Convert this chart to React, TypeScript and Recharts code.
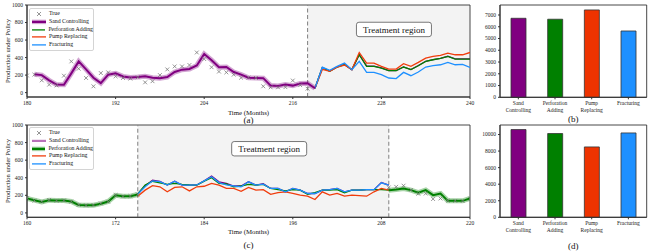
import {
  LineChart,
  Line,
  XAxis,
  YAxis,
  ReferenceArea,
  ReferenceLine,
  ReferenceDot,
  BarChart,
  Bar,
  Cell,
} from 'recharts'

// ------------------------------------------------------------
// Data
// ------------------------------------------------------------
const POLICIES = ['Sand Controlling', 'Perforation Adding', 'Pump Replacing', 'Fracturing']
const LINE_COLORS = ['#800080', '#008000', '#f03c0c', '#1e90ff']
const BAR_COLORS = ['#800080', '#008000', '#ee3300', '#1e90ff']

// (a) well 1 — months 180..240, treatment from 218
const TOP_X_TICKS = [180, 192, 204, 216, 228, 240]
const TOP_TRUE_START = 180
const topTrue = [
  195, 205, 140, 91, 82, 193, 356, 273, 167, 72, 223, 231, 186, 167, 160, 175, 117, 130, 200, 265,
  299, 299, 315, 458, 383, 290, 240, 231, 205, 170, 172, 168, 72, 60, 60, 62, 138, 85, 45,
]
const TOP_FIT_START = 181
const topFit = [
  210, 200, 140, 92, 90, 220, 356, 265, 170, 108, 205, 220, 185, 172, 178, 186, 170, 165, 178,
  235, 262, 270, 310, 440, 370, 290, 292, 235, 205, 170, 168, 165, 80, 75, 92, 80, 105, 108, 50,
]
const TOP_POLICY_START = 219
const topSand = [50, 285, 247, 293, 322, 262, 435, 302, 302, 282, 252, 252, 294, 264, 309, 358, 377, 392, 415, 385, 385, 385]
const topPerf = [50, 285, 245, 292, 320, 262, 432, 300, 300, 280, 250, 250, 292, 262, 307, 356, 375, 390, 413, 383, 383, 383]
const topPump = [50, 265, 242, 290, 315, 262, 458, 337, 337, 300, 269, 269, 330, 300, 345, 394, 413, 424, 451, 432, 432, 458]
const topFrac = [50, 290, 255, 300, 337, 262, 356, 231, 231, 205, 167, 160, 231, 193, 235, 292, 307, 318, 345, 318, 322, 288]

// (c) well 2 — months 160..220, treatment 175..209
const BOT_X_TICKS = [160, 172, 184, 196, 208, 220]
const BOT_PRE_START = 160
const botTruePre = [168, 140, 128, 148, 138, 142, 128, 92, 86, 90, 108, 128, 203, 188, 192, 208]
const botFitPre = [165, 145, 125, 145, 140, 140, 130, 90, 88, 88, 105, 130, 200, 190, 190, 210]
const BOT_POST_START = 209
const botTruePost = [290, 297, 310, 262, 218, 220, 158, 164, 140, 137, 135, 160]
const botFitPost = [259, 265, 278, 259, 230, 259, 202, 221, 137, 137, 137, 164]
const BOT_POLICY_START = 175
const botSand = [
  215, 305, 373, 360, 316, 360, 316, 316, 318, 365, 418, 354, 335, 306, 306, 354, 316, 332,
  278, 278, 240, 278, 259, 221, 221, 259, 265, 278, 240, 259, 259, 265, 265, 345, 316,
]
const botPerf = [
  215, 316, 360, 342, 325, 335, 325, 318, 316, 362, 400, 335, 330, 297, 306, 325, 316, 325,
  278, 265, 250, 265, 259, 212, 230, 259, 259, 265, 230, 259, 259, 265, 265, 265, 259,
]
const botPump = [
  190, 259, 310, 297, 240, 290, 297, 250, 297, 303, 335, 316, 278, 278, 246, 290, 259, 265,
  212, 230, 240, 221, 202, 190, 152, 240, 202, 221, 190, 202, 196, 190, 240, 278, 259,
]
const botFrac = [
  215, 297, 365, 355, 316, 360, 316, 316, 318, 365, 411, 345, 320, 306, 297, 354, 316, 328,
  278, 278, 240, 278, 259, 221, 221, 259, 265, 278, 240, 259, 259, 265, 265, 342, 316,
]

// (b) / (d) cumulative production per policy
const topTotals = [6720, 6640, 7430, 5640]
const botTotals = [10600, 10120, 8500, 10190]

// ------------------------------------------------------------
const SERIF = '"Liberation Serif", "DejaVu Serif", serif'
const AXIS = '#333'
const TICK = { fontSize: 5.5, fill: '#222', fontFamily: SERIF }

type Row = { month: number; [k: string]: number | undefined }

function buildRows(first: number, last: number, series: Array<[string, number, number[]]>) {
  const rows: Row[] = []
  for (let m = first; m <= last; m++) {
    const row: Row = { month: m }
    for (const [key, start, values] of series) {
      const v = values[m - start]
      if (v !== undefined) row[key] = v
    }
    rows.push(row)
  }
  return rows
}

const topRows = buildRows(180, 240, [
  ['true', TOP_TRUE_START, topTrue],
  ['fit', TOP_FIT_START, topFit],
  ['sand', TOP_POLICY_START, topSand],
  ['perf', TOP_POLICY_START, topPerf],
  ['pump', TOP_POLICY_START, topPump],
  ['frac', TOP_POLICY_START, topFrac],
])

const botRows = buildRows(160, 220, [
  ['true', BOT_PRE_START, botTruePre],
  ['true', BOT_POST_START, botTruePost],
  ['fit', BOT_PRE_START, botFitPre],
  ['fit2', BOT_POST_START, botFitPost],
  ['sand', BOT_POLICY_START, botSand],
  ['perf', BOT_POLICY_START, botPerf],
  ['pump', BOT_POLICY_START, botPump],
  ['frac', BOT_POLICY_START, botFrac],
])

// ------------------------------------------------------------
// Small pieces
// ------------------------------------------------------------
function CrossDot(props: any) {
  const { cx, cy, index } = props
  if (cx == null || cy == null || Number.isNaN(cy)) return <g key={index} />
  const s = 1.9
  return (
    <g key={index} stroke="#7a7a7a" strokeWidth={0.8}>
      <line x1={cx - s} y1={cy - s} x2={cx + s} y2={cy + s} />
      <line x1={cx - s} y1={cy + s} x2={cx + s} y2={cy - s} />
    </g>
  )
}

function RegionTag(props: any) {
  const { cx, cy } = props
  if (cx == null || cy == null) return <g />
  return (
    <g>
      <rect x={cx - 37.5} y={cy - 7.2} width={75} height={14.4} rx={2.5} fill="#fff" stroke="#555" strokeWidth={0.8} />
      <text x={cx} y={cy + 0.5} textAnchor="middle" dominantBaseline="central" fontSize={9} fontFamily={SERIF} fill="#111">
        Treatment region
      </text>
    </g>
  )
}

function PolicyTick(props: any) {
  const { x, y, payload } = props
  const words = String(payload.value).split(' ')
  return (
    <text x={x} y={y} textAnchor="middle" {...TICK}>
      {words.map((w, i) => (
        <tspan key={i} x={x} dy={i === 0 ? '0.71em' : '1.15em'}>
          {w}
        </tspan>
      ))}
    </text>
  )
}

function PolicyLegend({ top, left, thick }: { top: number; left: number; thick: 'sand' | 'perf' }) {
  const sample = (i: number) => {
    const color = LINE_COLORS[i]
    const isThick = (thick === 'sand' && i === 0) || (thick === 'perf' && i === 1)
    const faded = thick === 'perf' && i === 0
    return (
      <svg width={14} height={7.8}>
        {isThick && <line x1={0} y1={3.9} x2={14} y2={3.9} stroke={color} strokeOpacity={0.35} strokeWidth={4.5} />}
        <line
          x1={0}
          y1={3.9}
          x2={14}
          y2={3.9}
          stroke={color}
          strokeOpacity={faded ? 0.55 : 1}
          strokeWidth={isThick || faded ? 2.2 : 1.3}
        />
      </svg>
    )
  }
  return (
    <div
      style={{
        position: 'absolute',
        top,
        left,
        width: 61,
        padding: '1px 0 1px 2px',
        border: '0.8px solid #d4d4d4',
        borderRadius: 2,
        background: 'rgba(255,255,255,0.85)',
        fontFamily: SERIF,
        fontSize: 5.8,
        lineHeight: '7.8px',
        color: '#111',
      }}
    >
      <div style={{ display: 'flex', alignItems: 'center' }}>
        <svg width={14} height={7.8}>
          <g stroke="#7a7a7a" strokeWidth={0.8}>
            <line x1={5} y1={2} x2={9} y2={6} />
            <line x1={5} y1={6} x2={9} y2={2} />
          </g>
        </svg>
        <span style={{ marginLeft: 3, whiteSpace: 'nowrap' }}>True</span>
      </div>
      {POLICIES.map((p, i) => (
        <div key={p} style={{ display: 'flex', alignItems: 'center' }}>
          {sample(i)}
          <span style={{ marginLeft: 3, whiteSpace: 'nowrap' }}>{p}</span>
        </div>
      ))}
    </div>
  )
}

function Caption({ text, x, y, size }: { text: string; x: number; y: number; size: number }) {
  return (
    <div
      style={{
        position: 'absolute',
        left: x,
        top: y,
        transform: 'translate(-50%, -50%)',
        fontFamily: SERIF,
        fontSize: size,
        color: '#111',
        whiteSpace: 'nowrap',
      }}
    >
      {text}
    </div>
  )
}

function YTitle({ y }: { y: number }) {
  return (
    <div
      style={{
        position: 'absolute',
        left: 7,
        top: y,
        transform: 'translate(-50%, -50%) rotate(-90deg)',
        fontFamily: SERIF,
        fontSize: 6.6,
        color: '#111',
        whiteSpace: 'nowrap',
      }}
    >
      Production under Policy
    </div>
  )
}

// ------------------------------------------------------------
// Timeline panel (a) / (c)
// ------------------------------------------------------------
function Timeline({
  rows,
  domain,
  ticks,
  region,
  tagAt,
  fitColor,
  top,
  bottomPad,
  twoFits,
}: {
  rows: Row[]
  domain: [number, number]
  ticks: number[]
  region: [number, number]
  tagAt: [number, number]
  fitColor: string
  top: number
  bottomPad: number
  twoFits: boolean
}) {
  const fitKeys = twoFits ? ['fit', 'fit2'] : ['fit']
  return (
    <div style={{ position: 'absolute', left: 0, top }}>
      <LineChart width={480} height={125} data={rows} margin={{ top: 5, right: 10, bottom: 0, left: 0 }}>
        <XAxis
          dataKey="month"
          type="number"
          domain={domain}
          ticks={ticks}
          interval={0}
          allowDataOverflow
          height={bottomPad}
          tick={TICK}
          tickSize={2}
          tickMargin={2}
          stroke={AXIS}
        />
        <YAxis
          type="number"
          domain={[-50, 1000]}
          ticks={[0, 200, 400, 600, 800, 1000]}
          interval={0}
          allowDataOverflow
          width={27}
          tick={TICK}
          tickSize={2}
          tickMargin={2}
          stroke={AXIS}
        />
        <ReferenceArea x1={region[0]} x2={region[1]} fill="#f3f3f3" fillOpacity={1} stroke="none" />
        {region.map((x) =>
          x < domain[1] ? (
            <ReferenceLine key={x} x={x} stroke="#8a8a8a" strokeWidth={1.1} strokeDasharray="4 2.5" />
          ) : null,
        )}
        {['sand', 'perf', 'pump', 'frac'].map((key, i) => (
          <Line
            key={key}
            dataKey={key}
            stroke={LINE_COLORS[i]}
            strokeWidth={1.3}
            dot={false}
            activeDot={false}
            isAnimationActive={false}
          />
        ))}
        {fitKeys.map((key) => (
          <Line
            key={key + '-halo'}
            dataKey={key}
            stroke={fitColor}
            strokeOpacity={0.35}
            strokeWidth={5}
            dot={false}
            activeDot={false}
            isAnimationActive={false}
          />
        ))}
        {fitKeys.map((key) => (
          <Line
            key={key}
            dataKey={key}
            stroke={fitColor}
            strokeWidth={2}
            dot={false}
            activeDot={false}
            isAnimationActive={false}
          />
        ))}
        <Line
          dataKey="true"
          stroke="none"
          dot={CrossDot}
          activeDot={false}
          isAnimationActive={false}
        />
        <ReferenceDot x={tagAt[0]} y={tagAt[1]} r={0} shape={RegionTag} ifOverflow="visible" />
        <ReferenceArea x1={domain[0]} x2={domain[1]} fill="none" stroke={AXIS} strokeWidth={0.9} ifOverflow="visible" />
      </LineChart>
    </div>
  )
}

// ------------------------------------------------------------
// Totals panel (b) / (d)
// ------------------------------------------------------------
function Totals({
  values,
  max,
  ticks,
  top,
}: {
  values: number[]
  max: number
  ticks: number[]
  top: number
}) {
  const data = POLICIES.map((name, i) => ({ name, value: values[i] }))
  return (
    <div style={{ position: 'absolute', left: 480, top }}>
      <BarChart width={172} height={125} data={data} margin={{ top: 5, right: 5.3, bottom: 0, left: 0 }} barCategoryGap="30%">
        <XAxis
          dataKey="name"
          interval={0}
          height={27.7}
          tick={<PolicyTick />}
          tickSize={2}
          tickMargin={2}
          stroke={AXIS}
        />
        <YAxis
          type="number"
          domain={[0, max]}
          ticks={ticks}
          interval={0}
          width={20}
          tick={TICK}
          tickSize={2}
          tickMargin={2}
          stroke={AXIS}
        />
        <Bar dataKey="value" stroke="#333" strokeWidth={0.8} isAnimationActive={false}>
          {data.map((d, i) => (
            <Cell key={d.name} fill={BAR_COLORS[i]} />
          ))}
        </Bar>
        <ReferenceArea y1={0} y2={max} fill="none" stroke={AXIS} strokeWidth={0.9} ifOverflow="visible" />
      </BarChart>
    </div>
  )
}

export default function App() {
  return (
    <div style={{ position: 'relative', width: 652, height: 252, background: '#fff', overflow: 'hidden' }}>
      <style>{'body{margin:0}'}</style>

      <Timeline
        rows={topRows}
        domain={[180, 240]}
        ticks={TOP_X_TICKS}
        region={[218, 240]}
        tagAt={[229.7, 721]}
        fitColor={LINE_COLORS[0]}
        top={0}
        bottomPad={28}
        twoFits={false}
      />
      <PolicyLegend top={8} left={29} thick="sand" />
      <YTitle y={51} />
      <Caption text="Time (Months)" x={248.5} y={111.5} size={6.8} />
      <Caption text="(a)" x={248.5} y={119.5} size={9} />

      <Totals values={topTotals} max={7850} ticks={[0, 1000, 2000, 3000, 4000, 5000, 6000, 7000]} top={0} />
      <Caption text="(b)" x={573.3} y={119} size={9} />

      <Timeline
        rows={botRows}
        domain={[160, 220]}
        ticks={BOT_X_TICKS}
        region={[175, 209]}
        tagAt={[192.8, 730]}
        fitColor={LINE_COLORS[1]}
        top={120}
        bottomPad={27.7}
        twoFits
      />
      <PolicyLegend top={127} left={29} thick="perf" />
      <YTitle y={171} />
      <Caption text="Time (Months)" x={248.5} y={230.5} size={6.8} />
      <Caption text="(c)" x={248.5} y={244.5} size={9} />

      <Totals values={botTotals} max={11150} ticks={[0, 2000, 4000, 6000, 8000, 10000]} top={120} />
      <Caption text="(d)" x={573.3} y={246} size={9} />
    </div>
  )
}
